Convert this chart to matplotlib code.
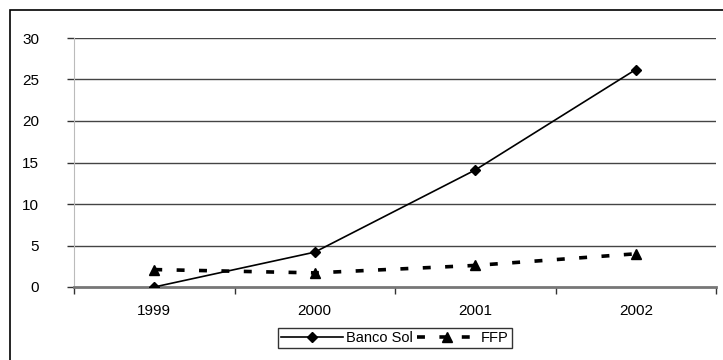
import matplotlib
matplotlib.use("Agg")
import matplotlib.pyplot as plt
from matplotlib.patches import Rectangle

years = ["1999", "2000", "2001", "2002"]
banco_sol = [0.0, 4.2, 14.1, 26.2]
ffp = [2.1, 1.7, 2.6, 4.0]
yticks = [0, 5, 10, 15, 20, 25, 30]

plt.rcParams["font.family"] = ["Liberation Sans", "DejaVu Sans"]

W, H = 723, 360
fig = plt.figure(figsize=(W / 100, H / 100), dpi=100)

# outer chart frame (right and bottom edges fall outside the image)
fig.patches.append(Rectangle((10 / W, -0.1), 1.2, 1 - 10 / H + 0.1,
                             transform=fig.transFigure, fill=False,
                             edgecolor="black", linewidth=1.2))

ax = fig.add_axes([74 / W, 1 - 287 / H, (716 - 74) / W, (287 - 38) / H])
x = list(range(len(years)))

for v in yticks[1:]:
    ax.axhline(v, color="#444444", linewidth=1.0, zorder=1)

ax.plot(x, banco_sol, color="black", linewidth=1.2, marker="D",
        markersize=5.5, label="Banco Sol", zorder=3)
ax.plot(x, ffp, color="black", linewidth=2.6, linestyle=(0, (2.2, 4)),
        marker="^", markersize=7.5, label="FFP", zorder=3)

ax.set_xlim(-0.5, 3.5)
ax.set_ylim(0, 30)
ax.set_yticks(yticks)
ax.set_yticklabels([str(v) for v in yticks], fontsize=11)
ax.set_xticks(x)
ax.set_xticklabels(years, fontsize=11)
ax.set_xticks([-0.5, 0.5, 1.5, 2.5, 3.5], minor=True)
ax.tick_params(axis="x", which="major", length=0, pad=12)
ax.tick_params(axis="x", which="minor", length=5, width=1, color="#333333")
ax.tick_params(axis="y", length=5, width=1, color="#333333", pad=20)

for s in ["top", "right"]:
    ax.spines[s].set_visible(False)
ax.spines["left"].set_color("#bbbbbb")
ax.spines["bottom"].set_color("#777777")
ax.spines["bottom"].set_linewidth(2)

leg = fig.legend(loc="center", bbox_to_anchor=(395 / W, 1 - 338 / H), ncol=2,
                 fontsize=10.5, frameon=True, fancybox=False, handlelength=4.2,
                 columnspacing=0.3, handletextpad=0.2, borderpad=0.2,
                 borderaxespad=0)
leg.get_frame().set_edgecolor("black")
leg.get_frame().set_linewidth(1.0)

fig.savefig("out.png", dpi=100)
